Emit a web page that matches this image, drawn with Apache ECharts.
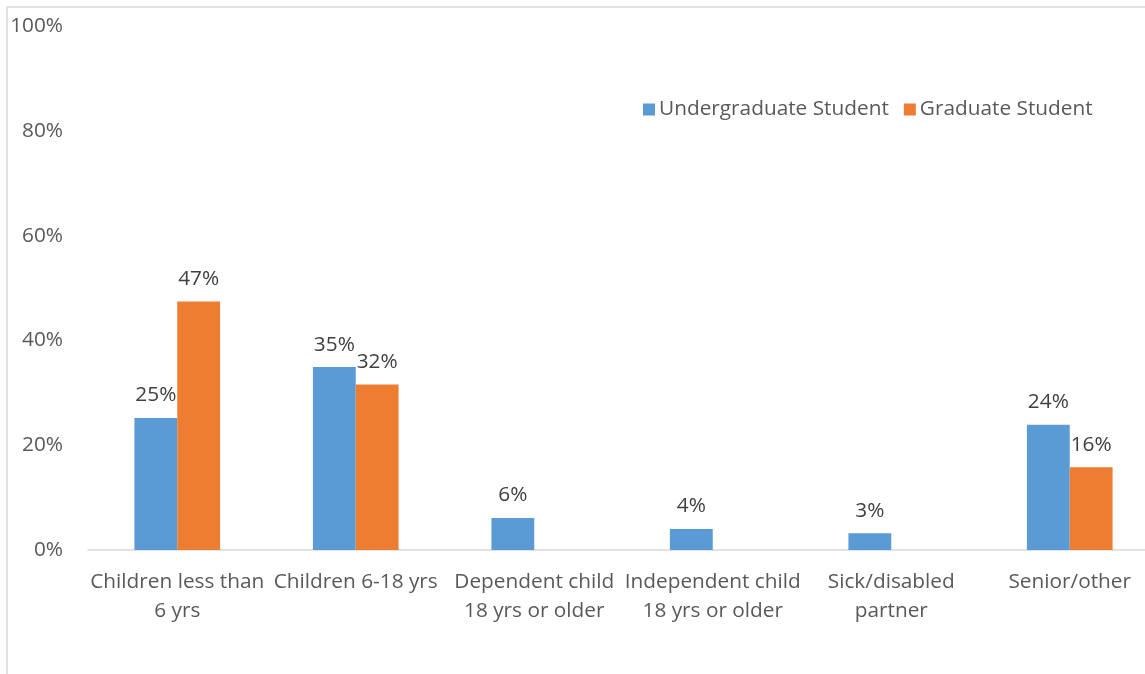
<!DOCTYPE html>
<html>
<head>
<meta charset="utf-8">
<script src="https://cdn.jsdelivr.net/npm/echarts@6/dist/echarts.min.js"></script>
<style>
  html, body { margin: 0; padding: 0; background: #fff; }
  #chart { width: 1145px; height: 674px; }
</style>
</head>
<body>
<div id="chart"></div>
<script>
// Care-recipient categories (x axis)
const categories = [
  'Children less than\n6 yrs',
  'Children 6-18 yrs',
  'Dependent child\n18 yrs or older',
  'Independent child\n18 yrs or older',
  'Sick/disabled\npartner',
  'Senior/other'
];
// Share of students caring for each group, in percent
const undergraduate = [25.2, 34.9, 6.1, 4.0, 3.2, 23.9];
const graduate = [47.4, 31.6, null, null, null, 15.8];
const yTicks = [0, 20, 40, 60, 80, 100];

const FONT = '"Open Sans"';
const SIZE = 20.8;
const chart = echarts.init(document.getElementById('chart'));

const labelStyle = {
  show: true,
  position: 'top',
  distance: 12,
  color: '#404040',
  fontFamily: FONT,
  fontSize: SIZE,
  formatter: p => Math.round(p.value) + '%'
};

chart.setOption({
  animation: false,
  textStyle: { fontFamily: FONT },
  grid: {
    left: 88, top: 26, width: 1071, bottom: 124,
    containLabel: false,
    outerBoundsMode: 'none'
  },
  legend: {
    left: 638,
    top: 94,
    itemWidth: 12,
    itemHeight: 12,
    itemGap: 15,
    icon: 'rect',
    textStyle: { color: '#595959', fontFamily: FONT, fontSize: SIZE, padding: [0, 0, 0, -1] },
    data: ['Undergraduate Student', 'Graduate Student']
  },
  xAxis: {
    type: 'category',
    data: categories,
    axisLine: { lineStyle: { color: '#d9d9d9', width: 1.5 } },
    axisTick: { show: false },
    axisLabel: {
      color: '#595959',
      fontFamily: FONT,
      fontSize: SIZE,
      lineHeight: 29.5,
      margin: 17,
      interval: 0
    }
  },
  yAxis: {
    type: 'value',
    min: yTicks[0],
    max: yTicks[yTicks.length - 1],
    interval: 20,
    axisLine: { show: false },
    axisTick: { show: false },
    splitLine: { show: false },
    axisLabel: {
      color: '#595959',
      fontFamily: FONT,
      fontSize: SIZE,
      margin: 25,
      formatter: v => v + '%'
    }
  },
  series: [
    {
      name: 'Undergraduate Student',
      type: 'bar',
      data: undergraduate,
      barGap: '0%',
      barCategoryGap: '52%',
      itemStyle: { color: '#5b9bd5' },
      label: labelStyle
    },
    {
      name: 'Graduate Student',
      type: 'bar',
      data: graduate,
      itemStyle: { color: '#ed7d31' },
      label: labelStyle
    }
  ],
  graphic: [
    // chart-area frame edges
    { type: 'line', shape: { x1: 7, y1: 7, x2: 1145, y2: 7 }, style: { stroke: '#d9d9d9', lineWidth: 1.5 } },
    { type: 'line', shape: { x1: 7, y1: 7, x2: 7, y2: 674 }, style: { stroke: '#d9d9d9', lineWidth: 1.5 } }
  ]
});
</script>
</body>
</html>
